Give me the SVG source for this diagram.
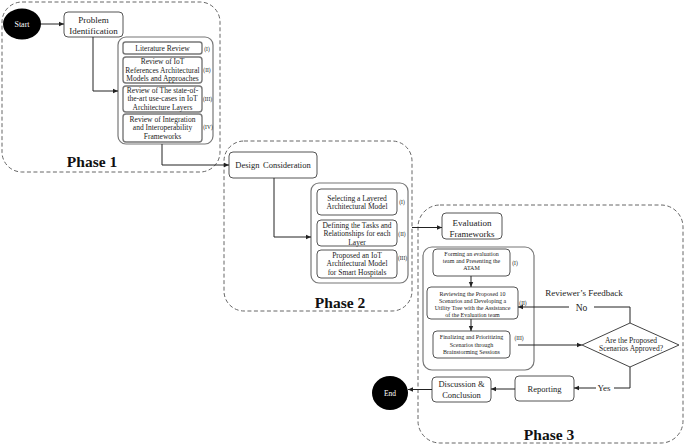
<svg xmlns="http://www.w3.org/2000/svg" width="685" height="446" viewBox="0 0 685 446">
<style>
text{font-family:"Liberation Serif","Times New Roman",serif;fill:#222;text-anchor:middle}
.phase{fill:none;stroke:#666;stroke-width:1;stroke-dasharray:4 2.5}
.box{fill:#fff;stroke:#555;stroke-width:1}
.sub{fill:#fff;stroke:#777;stroke-width:1.4}
.cont{fill:none;stroke:#777;stroke-width:1.2}
.lbl{font-size:5.5px}
.t7{font-size:7.5px}
.t6{font-size:6px}
.t9{font-size:9px}
.ph{font-size:15.5px;font-weight:bold;fill:#111}
.con{fill:none;stroke:#222;stroke-width:1}
</style>
<defs>
<marker id="ah" markerWidth="6" markerHeight="6" refX="5" refY="3" orient="auto" markerUnits="userSpaceOnUse">
<path d="M0,0.8 L5,3 L0,5.2 Z" fill="#222"/>
</marker>
</defs>

<g id="phase1">
<rect class="phase" x="2" y="2" width="218" height="170" rx="20"/>
<text class="ph" x="92" y="167">Phase 1</text>
</g>
<g id="phase2">
<rect class="phase" x="224" y="141" width="188" height="170" rx="20"/>
<text class="ph" x="340" y="308">Phase 2</text>
</g>
<g id="phase3">
<rect class="phase" x="418" y="205" width="265" height="238" rx="22"/>
<text class="ph" x="549" y="440">Phase 3</text>
</g>

<g id="start">
<ellipse cx="22" cy="24" rx="19" ry="15.5" fill="#000"/>
<text x="22" y="27" style="font-size:8px;fill:#fff">Start</text>
</g>
<g id="problem">
<rect class="box" x="64" y="12" width="59" height="25" rx="4"/>
<text class="t9" x="93.5" y="23">Problem</text>
<text class="t9" x="93.5" y="34">Identification</text>
</g>
<g id="p1list">
<rect class="cont" x="118" y="37" width="95" height="107" rx="8"/>
</g>
<g id="p1i">
<rect class="sub" x="123" y="42" width="79" height="12" rx="2.5"/>
<text class="t7" x="162.5" y="51">Literature Review</text>
<text class="lbl" x="207" y="51">(I)</text>
</g>
<g id="p1ii">
<rect class="sub" x="123" y="57" width="79" height="26" rx="3"/>
<text class="t7" x="162.5" y="64">Review of IoT</text>
<text class="t7" x="162.5" y="72.5">References Architectural</text>
<text class="t7" x="162.5" y="81">Models and Approaches</text>
<text class="lbl" x="207" y="72">(II)</text>
</g>
<g id="p1iii">
<rect class="sub" x="123" y="86" width="79" height="26" rx="3"/>
<text class="t7" x="162.5" y="92.5">Review of The state-of-</text>
<text class="t7" x="162.5" y="101">the-art use-cases in IoT</text>
<text class="t7" x="162.5" y="109.5">Architecture Layers</text>
<text class="lbl" x="207.5" y="101">(III)</text>
</g>
<g id="p1iv">
<rect class="sub" x="123" y="114" width="79" height="28" rx="3"/>
<text class="t7" x="162.5" y="121.5">Review of Integration</text>
<text class="t7" x="162.5" y="130">and Interoperability</text>
<text class="t7" x="162.5" y="139">Frameworks</text>
<text class="lbl" x="208" y="129">(IV)</text>
</g>

<g id="design">
<rect class="box" x="229" y="152" width="88" height="26" rx="4"/>
<text x="273" y="168" style="font-size:8.5px;word-spacing:1.5px">Design Consideration</text>
</g>
<g id="p2list">
<rect class="cont" x="311" y="183" width="97" height="100" rx="8"/>
</g>
<g id="p2i">
<rect class="box" x="317" y="189" width="80" height="26" rx="4"/>
<text class="t7" x="357" y="200.5">Selecting a Layered</text>
<text class="t7" x="357" y="209">Architectural Model</text>
<text class="lbl" x="402" y="204">(I)</text>
</g>
<g id="p2ii">
<rect class="box" x="317" y="220" width="80" height="26" rx="4"/>
<text class="t7" x="357" y="227.5">Defining the Tasks and</text>
<text class="t7" x="357" y="236">Relationships for each</text>
<text class="t7" x="357" y="244.5">Layer</text>
<text class="lbl" x="402" y="236">(II)</text>
</g>
<g id="p2iii">
<rect class="box" x="317" y="250" width="80" height="28" rx="4"/>
<text class="t7" x="357" y="257.5">Proposed an IoT</text>
<text class="t7" x="357" y="266">Architectural Model</text>
<text class="t7" x="357" y="274.5">for Smart Hospitals</text>
<text class="lbl" x="402.5" y="260">(III)</text>
</g>

<g id="evalfw">
<rect class="box" x="442" y="213" width="60" height="26" rx="4"/>
<text class="t9" x="472" y="226">Evaluation</text>
<text class="t9" x="472" y="237">Frameworks</text>
</g>
<g id="p3list">
<rect class="cont" x="423" y="247" width="111" height="123" rx="9"/>
</g>
<g id="p3i">
<rect class="box" x="433" y="249" width="77" height="27" rx="4"/>
<text class="t6" x="471.5" y="256">Forming an evaluation</text>
<text class="t6" x="471.5" y="263">team and Presenting the</text>
<text class="t6" x="471.5" y="270">ATAM</text>
<text class="lbl" x="515" y="265">(I)</text>
</g>
<g id="p3ii">
<rect class="box" x="427" y="287" width="91" height="32" rx="4"/>
<text class="t6" x="472.5" y="295.5">Reviewing the Proposed 10</text>
<text class="t6" x="472.5" y="302.5">Scenarios and Developing a</text>
<text class="t6" x="472.5" y="309.5">Utility Tree with the Assistance</text>
<text class="t6" x="472.5" y="316.5">of the Evaluation team</text>
<text class="lbl" x="523" y="305">(II)</text>
</g>
<g id="p3iii">
<rect class="box" x="433" y="331" width="77" height="27" rx="4"/>
<text class="t6" x="471.5" y="339">Finalizing and Prioritizing</text>
<text class="t6" x="471.5" y="346.5">Scenarios through</text>
<text class="t6" x="471.5" y="354">Brainstorming Sessions</text>
<text class="lbl" x="519" y="340">(III)</text>
</g>
<g id="decision">
<polygon points="582,345 630,323 679,345 630,367" fill="#fff" stroke="#444" stroke-width="1"/>
<text class="t7" x="631" y="342.5">Are the Proposed</text>
<text class="t7" x="631" y="351">Scenarios Approved?</text>
</g>
<g id="reporting">
<rect class="box" x="515" y="376" width="59" height="25" rx="4"/>
<text style="font-size:8.5px" x="544.5" y="392">Reporting</text>
</g>
<g id="discussion">
<rect class="box" x="432" y="377" width="59" height="25" rx="4"/>
<text style="font-size:8.5px" x="461.5" y="387">Discussion &amp;</text>
<text style="font-size:8.5px" x="461.5" y="398">Conclusion</text>
</g>
<g id="end">
<ellipse cx="390" cy="393" rx="18" ry="17" fill="#000"/>
<text x="390" y="396" style="font-size:7.5px;fill:#fff">End</text>
</g>

<g id="connectors">
<line class="con" x1="41" y1="24" x2="64" y2="24" marker-end="url(#ah)"/>
<polyline class="con" points="93,37 93,91 118,91" marker-end="url(#ah)"/>
<polyline class="con" points="162,144 162,165 229,165" marker-end="url(#ah)"/>
<polyline class="con" points="274,178 274,237 311,237" marker-end="url(#ah)"/>
<line class="con" x1="412" y1="227.5" x2="442" y2="227.5" marker-end="url(#ah)"/>
<line class="con" x1="471" y1="276" x2="471" y2="287" marker-end="url(#ah)"/>
<line class="con" x1="471" y1="319" x2="471" y2="331" marker-end="url(#ah)"/>
<line class="con" x1="518" y1="345" x2="582" y2="345" marker-end="url(#ah)"/>
<polyline class="con" points="630,323 630,307 594,307"/>
<line class="con" x1="569" y1="307" x2="518" y2="307" marker-end="url(#ah)"/>
<text class="t9" x="584" y="296">Reviewer’s Feedback</text>
<text style="font-size:9.5px" x="581.5" y="310.5">No</text>
<polyline class="con" points="630,367 630,388 614,388"/>
<line class="con" x1="596" y1="388" x2="574" y2="388" marker-end="url(#ah)"/>
<text class="t9" x="604" y="391">Yes</text>
<line class="con" x1="515" y1="389" x2="491" y2="389" marker-end="url(#ah)"/>
<line class="con" x1="432" y1="389.5" x2="408" y2="389.5" marker-end="url(#ah)"/>
</g>
</svg>
